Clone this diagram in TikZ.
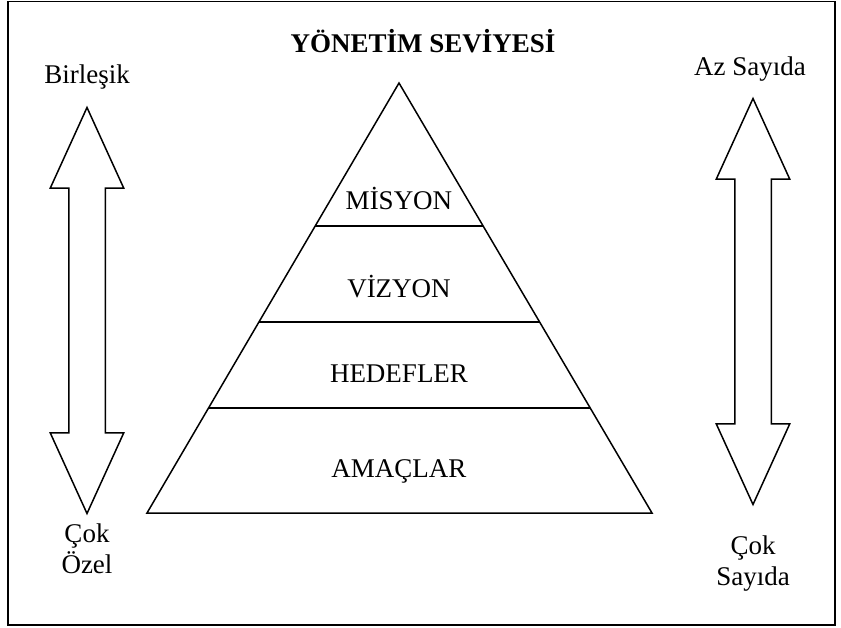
\documentclass[tikz,border=0pt]{standalone}
\usepackage{fontspec}
\setmainfont{Liberation Serif}
\usetikzlibrary{calc,positioning,shapes.arrows}

\begin{document}
\begin{tikzpicture}[x=1pt,y=-1pt,
		lbl/.style={font=\fontsize{27}{31}\selectfont, inner sep=0pt, anchor=base, align=center},
		dblarrow/.style={double arrow, draw, line width=1.5pt, rotate=90, inner xsep=0pt, inner ysep=17.5pt,
			minimum width=72pt, minimum height=406pt, double arrow head extend=18.5pt, double arrow tip angle=49},
		layer/.style={line width=1.5pt}]
	\useasboundingbox (0,0) rectangle (841,627);
	\draw[line width=1.5pt] (8,1.5) rectangle (835,625);
	% pyramid
	\coordinate (top) at (399,83);
	\coordinate (bl) at (147,513);
	\coordinate (br) at (652,513);
	\draw[layer, line join=miter] (top) -- (bl) -- (br) -- cycle;
	\foreach \t in {0.3326,0.5558,0.7558}
		\draw[layer] ($(top)!\t!(bl)$) -- ($(top)!\t!(br)$);
	\node[lbl, font=\fontsize{27}{31}\selectfont\bfseries] (title) at (423,52) {YÖNETİM SEVİYESİ};
	\node[lbl] (misyon) at (399,209) {MİSYON};
	\node[lbl] (vizyon) at (399,297) {VİZYON};
	\node[lbl] (hedef) at (399,382) {HEDEFLER};
	\node[lbl] (amac) at (399,477) {AMAÇLAR};
	% side arrows
	\node[dblarrow] (larrow) at (87,310.5) {};
	\node[dblarrow] (rarrow) at (753,301.5) {};
	\node[lbl] (birlesik) at (87,83) {Birleşik};
	\node[lbl] (azsayida) at (750,75) {Az Sayıda};
	\node[lbl, below=8pt of larrow.west] (cokozel) {Çok\\Özel};
	\node[lbl, below=29pt of rarrow.west] (coksayida) {Çok\\Sayıda};
\end{tikzpicture}
\end{document}
